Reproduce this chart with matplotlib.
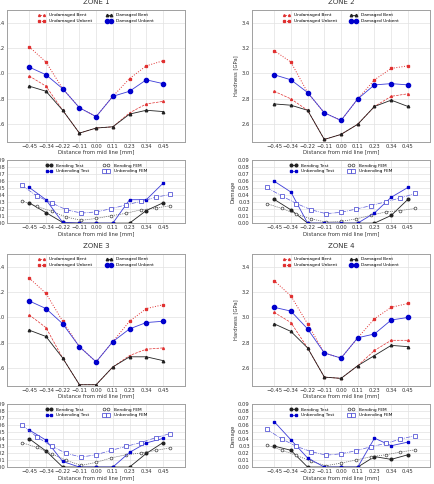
import numpy as np
import matplotlib
matplotlib.use('Agg')
import matplotlib.pyplot as plt

# positions of the measurements and of the FEM nodes [mm]
xTest = [-0.45, -0.3375, -0.225, -0.1125, 0.0, 0.1125, 0.225, 0.3375, 0.45]
xFem = [-0.5, -0.4, -0.3, -0.2, -0.1, 0.0, 0.1, 0.2, 0.3, 0.4, 0.5]
xLabels = ['\u22120.45', '\u22120.34', '\u22120.22', '\u22120.11', '0.00', '0.11', '0.23', '0.34', '0.45']
zones = ['ZONE 1', 'ZONE 2', 'ZONE 3', 'ZONE 4']

# hardness [GPa]
undBent = [
    [2.98, 2.90, 2.71, 2.53, 2.57, 2.58, 2.69, 2.76, 2.78],
    [2.86, 2.80, 2.71, 2.48, 2.52, 2.60, 2.74, 2.82, 2.84],
    [3.02, 2.92, 2.68, 2.47, 2.47, 2.61, 2.70, 2.75, 2.76],
    [3.04, 2.96, 2.76, 2.53, 2.52, 2.62, 2.74, 2.82, 2.82],
]
undUnbent = [
    [3.21, 3.09, 2.88, 2.73, 2.66, 2.82, 2.96, 3.06, 3.10],
    [3.18, 3.09, 2.85, 2.69, 2.63, 2.80, 2.95, 3.04, 3.06],
    [3.31, 3.19, 2.97, 2.77, 2.65, 2.81, 2.97, 3.07, 3.10],
    [3.29, 3.17, 2.95, 2.72, 2.68, 2.84, 2.99, 3.08, 3.11],
]
damBent = [
    [2.90, 2.86, 2.71, 2.53, 2.57, 2.58, 2.68, 2.71, 2.70],
    [2.76, 2.75, 2.71, 2.48, 2.52, 2.60, 2.74, 2.79, 2.74],
    [2.90, 2.85, 2.68, 2.47, 2.47, 2.61, 2.69, 2.69, 2.66],
    [2.95, 2.89, 2.76, 2.53, 2.52, 2.62, 2.70, 2.78, 2.77],
]
damUnbent = [
    [3.05, 2.99, 2.88, 2.73, 2.66, 2.82, 2.86, 2.95, 2.92],
    [2.99, 2.95, 2.85, 2.69, 2.63, 2.80, 2.91, 2.92, 2.91],
    [3.13, 3.07, 2.95, 2.77, 2.65, 2.81, 2.91, 2.96, 2.97],
    [3.08, 3.05, 2.91, 2.72, 2.68, 2.84, 2.87, 2.98, 3.00],
]

# damage
bendTest = [
    [0.029, 0.015, 0.001, 0.0, 0.0, 0.0, 0.0, 0.018, 0.029],
    [0.034, 0.019, 0.0, 0.0, 0.0, 0.0, 0.0, 0.011, 0.034],
    [0.0405, 0.023, 0.0, 0.0, 0.0, 0.0, 0.0, 0.0195, 0.035],
    [0.030, 0.024, 0.0, 0.0, 0.0, 0.0, 0.015, 0.011, 0.0176],
]
unbendTest = [
    [0.051, 0.0335, 0.001, 0.0, 0.0, 0.0, 0.0335, 0.0335, 0.057],
    [0.060, 0.0445, 0.0, 0.0, 0.0, 0.0, 0.0145, 0.037, 0.051],
    [0.053, 0.0385, 0.008, 0.0, 0.0, 0.0, 0.021, 0.0345, 0.041],
    [0.065, 0.039, 0.013, 0.0, 0.0, 0.0, 0.0414, 0.0305, 0.0357],
]
bendFem = [
    [0.032, 0.024, 0.017, 0.0086, 0.004, 0.0067, 0.0105, 0.014, 0.019, 0.0215, 0.025],
    [0.028, 0.021, 0.013, 0.006, 0.0015, 0.0025, 0.006, 0.011, 0.016, 0.018, 0.021],
    [0.035, 0.028, 0.019, 0.0095, 0.0024, 0.0067, 0.013, 0.0176, 0.020, 0.0238, 0.0276],
    [0.0314, 0.0243, 0.0167, 0.008, 0.002, 0.0057, 0.010, 0.0148, 0.0176, 0.0214, 0.0248],
]
unbendFem = [
    [0.054, 0.039, 0.029, 0.019, 0.0144, 0.016, 0.0206, 0.026, 0.031, 0.037, 0.041],
    [0.051, 0.039, 0.028, 0.019, 0.0135, 0.0155, 0.020, 0.025, 0.0305, 0.036, 0.0425],
    [0.0605, 0.0433, 0.030, 0.0195, 0.0143, 0.0176, 0.0238, 0.0295, 0.035, 0.042, 0.048],
    [0.054, 0.0405, 0.0295, 0.022, 0.017, 0.019, 0.0233, 0.029, 0.0338, 0.040, 0.045],
]

fs = 3.8
lfs = 3.1
blue = '#3b3bd8'
txt = '#333333'

def styleAxes(ax):
    ax.grid(True, color='#e2e2e2', linewidth=0.5)
    ax.set_axisbelow(True)
    for s in ax.spines.values():
        s.set_color('#a0a0a0')
        s.set_linewidth(0.7)
    ax.tick_params(length=0, labelsize=fs, pad=1.5, labelcolor=txt)
    ax.set_xlim(-0.6, 0.6)
    ax.set_xticks(xTest)
    ax.set_xticklabels(xLabels)
    ax.set_xlabel('Distance from mid line [mm]', fontsize=fs, labelpad=0.5, color=txt)

def drawHardness(ax, i):
    ax.plot(xTest, undBent[i], '--', color='#e03030', marker='^', ms=1.4, lw=0.5, label='Undamaged Bent')
    ax.plot(xTest, undUnbent[i], ':', color='#e03030', marker='s', ms=1.4, lw=0.7, label='Undamaged Unbent')
    ax.plot(xTest, damBent[i], '-', color='#222222', marker='^', ms=1.8, lw=0.6, label='Damaged Bent')
    ax.plot(xTest, damUnbent[i], '-', color=blue, marker='o', ms=3.0, lw=0.6, mfc='#0000cc', mec='#0000cc', label='Damaged Unbent')
    styleAxes(ax)
    ax.set_ylim(2.46, 3.5)
    ax.set_yticks([2.6, 2.8, 3.0, 3.2, 3.4])
    ax.set_yticklabels(['2.6', '2.8', '3.0', '3.2', '3.4'])
    ax.set_ylabel('Hardness [GPa]', fontsize=fs, labelpad=2, color=txt)
    ax.set_title(zones[i], fontsize=5, pad=4, color=txt)
    ax.legend(loc='upper center', ncol=2, fontsize=lfs, frameon=False, numpoints=2,
              handlelength=1.6, columnspacing=3.0, borderaxespad=0.4, labelspacing=0.4,
              handletextpad=1.0)

def drawDamage(ax, i):
    ax.plot(xTest, bendTest[i], '-', color='#222222', marker='o', ms=1.9, lw=0.6, label='Bending Test')
    ax.plot(xFem, bendFem[i], '--', color='#555555', marker='o', ms=2.0, lw=0.5, mfc='white', mec='#444444', mew=0.5, dashes=(1.5, 1.5), label='Bending FEM')
    ax.plot(xTest, unbendTest[i], '-', color=blue, marker='s', ms=1.9, lw=0.6, mfc='#0000cc', mec='#0000cc', label='Unbending Test')
    ax.plot(xFem, unbendFem[i], '-.', color='#5a5ad8', marker='s', ms=2.2, lw=0.5, mfc='white', mec='#3a3ad0', mew=0.5, label='Unbending FEM')
    styleAxes(ax)
    ax.set_ylim(0, 0.09)
    ticks = [0.0, 0.01, 0.02, 0.03, 0.04, 0.05, 0.06, 0.07, 0.08, 0.09]
    ax.set_yticks(ticks)
    ax.set_yticklabels(['%.2f' % v for v in ticks])
    ax.set_ylabel('Damage', fontsize=fs, labelpad=2, color=txt)
    h, l = ax.get_legend_handles_labels()
    ax.legend([h[0], h[2], h[1], h[3]], [l[0], l[2], l[1], l[3]], loc='upper center', ncol=2,
              fontsize=lfs, frameon=False, numpoints=2, handlelength=1.6, columnspacing=3.0,
              borderaxespad=0.4, labelspacing=0.4, handletextpad=1.0)

fig = plt.figure(figsize=(4.35, 4.84), dpi=100)
lefts = [0.016, 0.579]
hardBottoms = [0.7066, 0.2025]
damBottoms = [0.539, 0.035]
for i in range(4):
    row = i // 2
    col = i % 2
    axH = fig.add_axes([lefts[col], hardBottoms[row], 0.41, 0.2727])
    drawHardness(axH, i)
    axD = fig.add_axes([lefts[col], damBottoms[row], 0.41, 0.130])
    drawDamage(axD, i)

fig.savefig('out.png', dpi=100)
